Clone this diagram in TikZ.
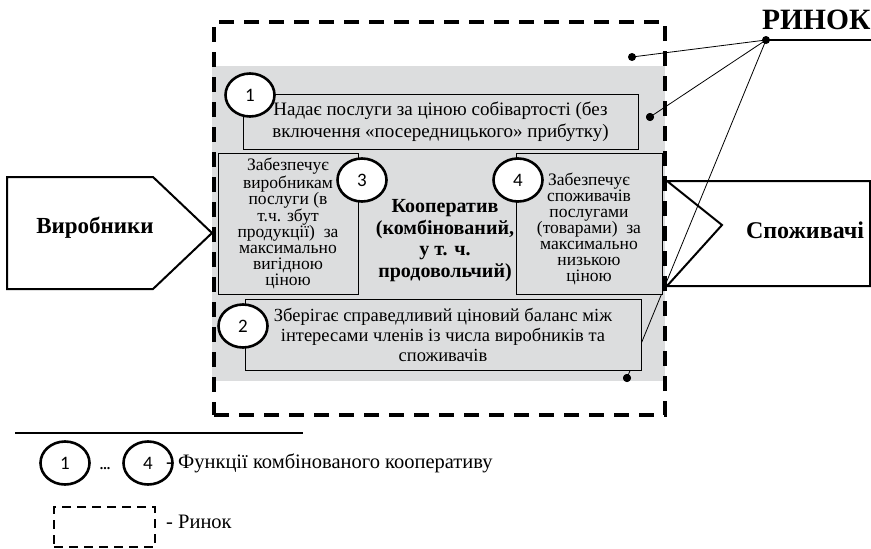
\documentclass[tikz,border=0pt]{standalone}
\usepackage{fontspec}
\setmainfont{Liberation Serif}
\newfontfamily\cnumfont{Carlito}
\usetikzlibrary{shapes.geometric}
\definecolor{boxgray}{RGB}{220,221,222}
\begin{document}
\begin{tikzpicture}[x=1pt,y=-1pt,
  fbox/.style={draw, line width=0.8pt, fill=boxgray, inner sep=0pt},
  numc/.style={ellipse, draw, line width=2.6pt, fill=white, inner sep=0pt,
    minimum width=49pt, minimum height=43pt, font=\cnumfont\fontsize{19}{19}\selectfont},
  rdot/.style={circle, fill=black, inner sep=0pt, minimum size=8pt},
  rlink/.style={line width=0.8pt},
  mkt/.style={line width=3.2pt, dash pattern=on 15pt off 10pt},
  btxt/.style={align=center, inner sep=0pt, font=\fontsize{19}{21.5}\selectfont},
  stxt/.style={align=center, inner sep=0pt, font=\fontsize{17.5}{16}\selectfont},
  party/.style={line width=2pt, line join=miter},
  lgtxt/.style={anchor=west, inner sep=0pt, font=\fontsize{20.5}{22}\selectfont}]
\useasboundingbox (0,0) rectangle (871,549);

% gray region and market boundary
\node[fill=boxgray, minimum width=453pt, minimum height=315pt, inner sep=0pt] (zone) at (438.5,223.5) {};
\node[draw, mkt, minimum width=451pt, minimum height=393pt, inner sep=0pt] (market) at (439.5,218.5) {};

% producers / consumers shapes
\draw[party] (7,177) -- (153,177) -- (212,233) -- (153,289) -- (7,289) -- cycle;
\node[font=\bfseries\fontsize{23}{26}\selectfont] (prod) at (95,228) {Виробники};
\draw[party] (722,225) -- (667,181) -- (870,181) -- (870,286) -- (667,286) -- cycle;
\node[font=\bfseries\fontsize{24}{26}\selectfont] (cons) at (805,230) {Споживачі};

% market label and links
\coordinate (rend) at (871,40);
\node[rdot] (rk) at (766,40) {};
\node[font=\bfseries\fontsize{29.5}{30}\selectfont, anchor=base west, inner sep=0pt] (rinok) at (762,29) {РИНОК};
\node[rdot] (d1) at (632,57) {};
\node[rdot] (d2) at (650,117) {};
\node[rdot] (d3) at (627,378) {};
\draw[line width=2pt] (rk.center) -- (rend);
\draw[rlink] (rk.center) -- (d1.center);
\draw[rlink] (rk.center) -- (d2.center);
\draw[rlink] (rk.center) -- (d3.center);

% function boxes
\node[fbox, btxt, minimum width=395pt, minimum height=55pt] (f1) at (440.5,121.5)
  {Надає послуги за ціною собівартості (без\\включення «посередницького» прибутку)};
\node[fbox, stxt, minimum width=140pt, minimum height=141pt] (f3) at (288,223.5)
  {Забезпечує\\виробникам\\послуги (в\\т.ч. збут\\продукції)~ за\\максимально\\вигідною\\ціною};
\node[fbox, minimum width=146pt, minimum height=141pt] (f4) at (589,223.5) {};
\node[stxt] (t4) at (589,229)
  {Забезпечує\\споживачів\\послугами\\(товарами)~ за\\максимально\\низькою\\ціною};
\node[fbox, btxt, font=\fontsize{18.5}{20}\selectfont, minimum width=396pt, minimum height=71pt] (f2) at (443,334.5)
  {Зберігає справедливий ціновий баланс між\\інтересами членів із числа виробників та\\споживачів};
\node[align=center, inner sep=0pt, font=\bfseries\fontsize{20}{21.7}\selectfont] (coop) at (445,240.5)
  {Кооператив\\(комбінований,\\у т. ч.\\продовольчий)};

% redraw dots on top
\node[rdot] at (d2) {};
\node[rdot] at (d3) {};

% function numbers
\node[numc] (c1) at (250,95) {1};
\node[numc] (c3) at (362,180) {3};
\node[numc] (c4) at (518,180) {4};
\node[numc] (c2) at (243,326) {2};

% legend
\coordinate (la) at (15,433);
\coordinate (lb) at (303,433);
\draw[line width=1.2pt] (la) -- (lb);
\node[numc] (l1) at (65,463) {1};
\node[numc] (l4) at (148,463) {4};
\node[font=\bfseries\fontsize{14}{14}\selectfont, inner sep=0pt] (ldots) at (105,469) {...};
\node[lgtxt] (lt1) at (166,463) {- Функції комбінованого кооперативу};
\node[draw, line width=2pt, dash pattern=on 9pt off 6pt, minimum width=101pt, minimum height=40pt, inner sep=0pt] (lm) at (104.5,527) {};
\node[lgtxt] (lt2) at (166,522) {- Ринок};
\end{tikzpicture}
\end{document}
